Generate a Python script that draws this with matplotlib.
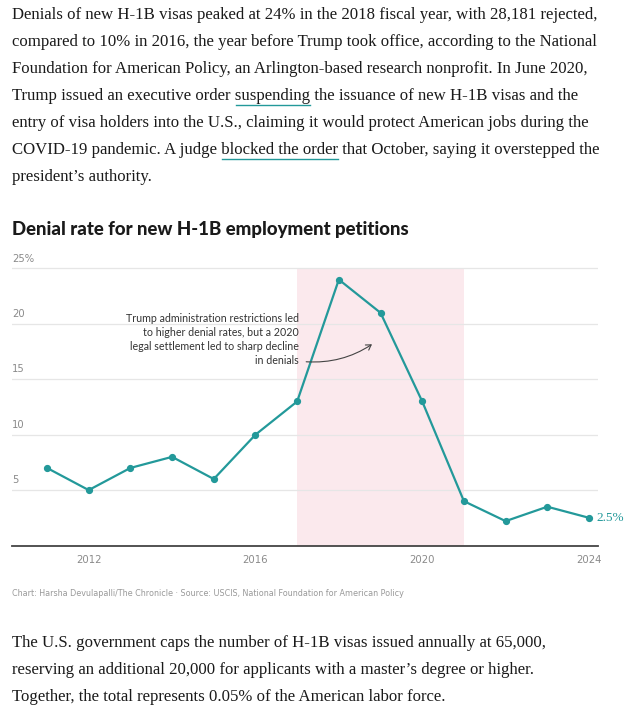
import numpy as np
import matplotlib.pyplot as plt
from matplotlib.patches import FancyArrowPatch

# データ
years = [2011, 2012, 2013, 2014, 2015, 2016, 2017, 2018, 2019, 2020, 2021, 2022, 2023, 2024]
denial_rate = [7, 5, 7, 8, 6, 10, 13, 24, 21, 13, 4, 2.2, 3.5, 2.5]
shade_start, shade_end = 2017, 2021
ytick_vals = [5, 10, 15, 20, 25]
ytick_labels = ["5", "10", "15", "20", "25%"]
xtick_vals = [2012, 2016, 2020, 2024]

para_top = [
    ("Denials of new H-1B visas peaked at 24% in the 2018 fiscal year, with 28,181 rejected,", None),
    ("compared to 10% in 2016, the year before Trump took office, according to the National", None),
    ("Foundation for American Policy, an Arlington-based research nonprofit. In June 2020,", None),
    ("Trump issued an executive order suspending the issuance of new H-1B visas and the", "suspending"),
    ("entry of visa holders into the U.S., claiming it would protect American jobs during the", None),
    ("COVID-19 pandemic. A judge blocked the order that October, saying it overstepped the", "blocked the order"),
    ("president\u2019s authority.", None),
]
para_bottom = [
    "The U.S. government caps the number of H-1B visas issued annually at 65,000,",
    "reserving an additional 20,000 for applicants with a master\u2019s degree or higher.",
    "Together, the total represents 0.05% of the American labor force.",
]
note = ("Trump administration restrictions led\nto higher denial rates, but a 2020\n"
        "legal settlement led to sharp decline\nin denials")
source = "Chart: Harsha Devulapalli/The Chronicle \u00b7 Source: USCIS, National Foundation for American Policy"

teal = "#23999a"
W, H = 624, 715
fig = plt.figure(figsize=(W / 100, H / 100), dpi=100)
serif = "Liberation Serif"
body_size = 12.03


def fy(px):
    return 1 - px / H


def fx(px):
    return px / W


# 本文（上）
fig.canvas.draw()
renderer = fig.canvas.get_renderer()
for i, (line, link) in enumerate(para_top):
    y = fy(15 + 27 * i)
    fig.text(fx(12), y, line, fontsize=body_size, family=serif, color="#1a1a1a", va="center")
    if link:
        pre = line.split(link)[0]
        t1 = fig.text(0, 0, pre, fontsize=body_size, family=serif, alpha=0)
        t2 = fig.text(0, 0, pre + link, fontsize=body_size, family=serif, alpha=0)
        x0 = 12 + t1.get_window_extent(renderer).width + 1
        x1 = 12 + t2.get_window_extent(renderer).width
        fig.add_artist(plt.Line2D([fx(x0), fx(x1)], [y - 9 / H, y - 9 / H],
                                  color=teal, lw=1.0, transform=fig.transFigure))

# タイトル
fig.text(fx(12), fy(230), "Denial rate for new H-1B employment petitions",
         fontsize=13.4, family="Lato", weight="black", color="#1a1a1a", va="center")

# グラフ本体
y0_px, per_unit = 545.5, 11.08
ymax = 26
ax_bottom = (H - y0_px) / H
ax_height = ymax * per_unit / H
x_left, x_right = 12, 598
per_year = (589 - 47) / 13
xmin = 2011 - (47 - x_left) / per_year
xmax = 2024 + (x_right - 589) / per_year
ax = fig.add_axes([fx(x_left), ax_bottom, (x_right - x_left) / W, ax_height])
ax.set_xlim(xmin, xmax)
ax.set_ylim(0, ymax)

ax.axvspan(shade_start, shade_end, ymax=25 / ymax, color="#fbe9ed", lw=0, zorder=0)
for v, lab in zip(ytick_vals, ytick_labels):
    ax.axhline(v, color="#e6e6e6", lw=0.9, zorder=1)
    ax.text(xmin, v + 0.45, lab, fontsize=7.2, family="DejaVu Sans", color="#8a8a8a",
            va="bottom", ha="left")

ax.plot(years, denial_rate, color=teal, lw=1.6, marker="o", markersize=4.2, zorder=3,
        clip_on=False)
ax.text(years[-1] + 0.17, denial_rate[-1], f"{denial_rate[-1]}%", color=teal,
        fontsize=9.5, family=serif, va="center", ha="left")

for s in ["top", "right", "left"]:
    ax.spines[s].set_visible(False)
ax.spines["bottom"].set_color("#444444")
ax.spines["bottom"].set_linewidth(1.3)
ax.set_yticks([])
ax.set_xticks(xtick_vals)
ax.set_xticklabels([str(x) for x in xtick_vals], fontsize=7.3, family="DejaVu Sans",
                   color="#8a8a8a")
ax.tick_params(axis="x", length=0, pad=7)

# 注釈
ax.text(2017.05, 18.6, note, fontsize=7.7, family="Lato", color="#333333",
        ha="right", va="center", linespacing=1.35)
arrow = FancyArrowPatch((2017.15, 16.6), (2018.85, 18.3),
                        connectionstyle="arc3,rad=0.18", arrowstyle="->,head_width=2.2,head_length=3.5",
                        color="#444444", lw=0.8, zorder=4)
ax.add_patch(arrow)

# 出典
fig.text(fx(12), fy(593), source, fontsize=5.77, family="DejaVu Sans", color="#999999",
         va="center")

# 本文（下）
for i, line in enumerate(para_bottom):
    fig.text(fx(12), fy(643 + 27 * i), line, fontsize=body_size, family=serif,
             color="#1a1a1a", va="center")

plt.savefig("out.png", dpi=100)
